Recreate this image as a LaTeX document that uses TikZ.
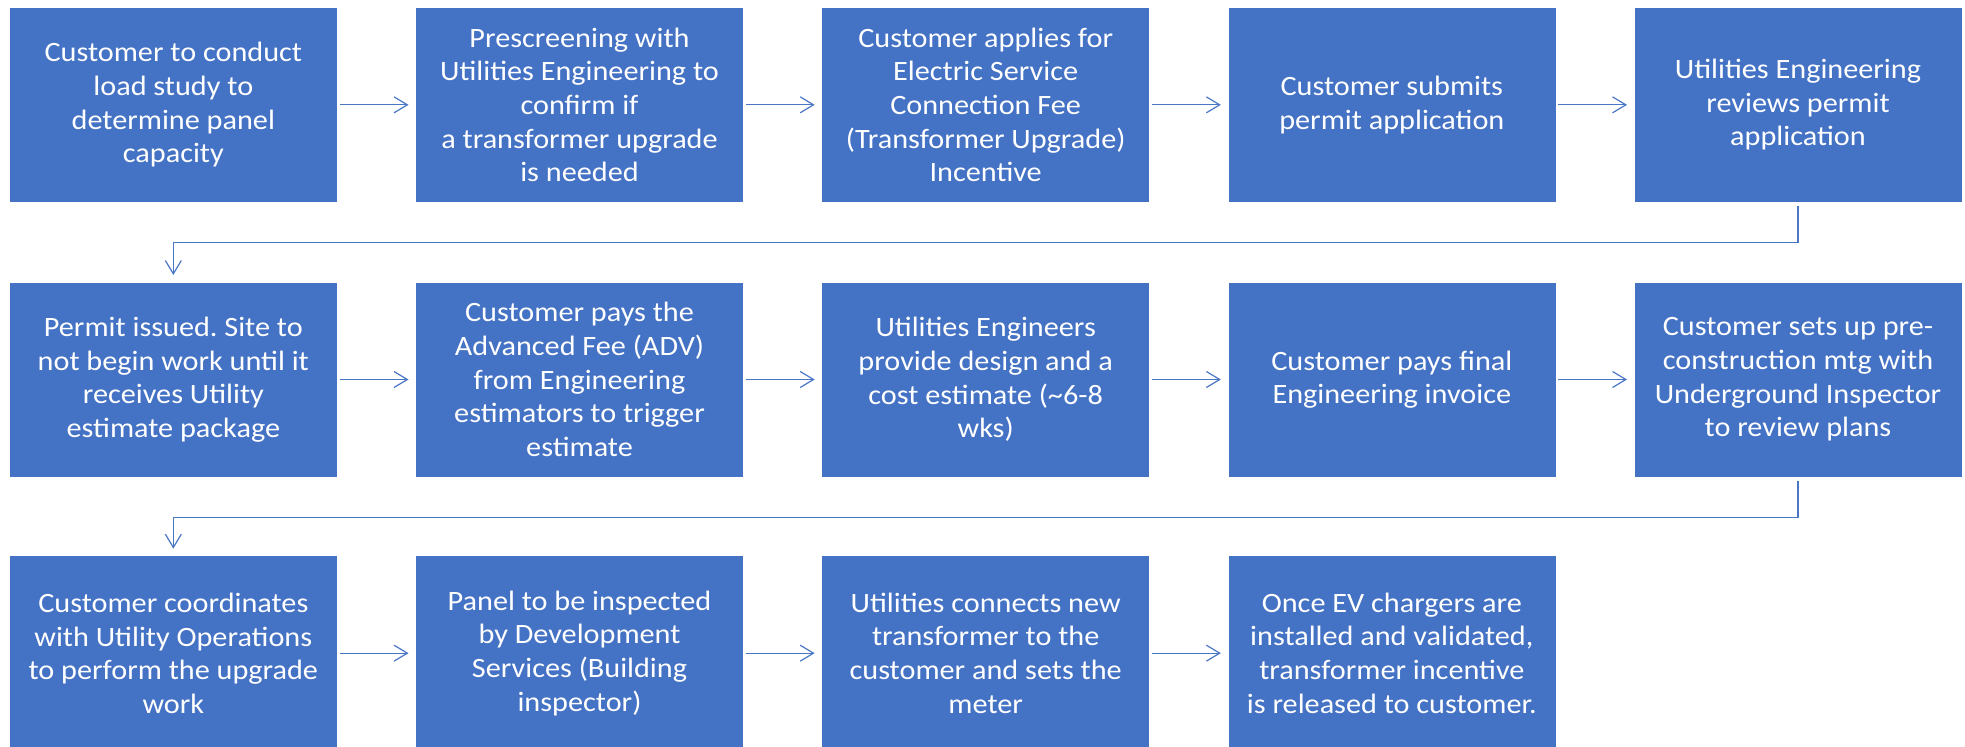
\documentclass[tikz,border=0pt]{standalone}
\usepackage{fontspec}
\setmainfont{Carlito}[FakeStretch=1.08]
\frenchspacing
\usetikzlibrary{positioning,arrows.meta}

\definecolor{stepblue}{HTML}{4472C4}
\definecolor{linkblue}{HTML}{4A76C6}

\tikzset{
  stepbox/.style={fill=stepblue, draw=white, line width=0.5pt, text=white,
    minimum width=246pt, minimum height=146.25pt, inner sep=0pt, align=center,
    font=\fontsize{21}{25.2}\selectfont},
  link/.style={draw=linkblue, line width=0.9pt,
    -{Straight Barb[length=10pt,width=12pt]}, shorten <=1.5pt, shorten >=5pt},
}

\begin{document}
\begin{tikzpicture}[node distance=59.25pt and 58.125pt]
\useasboundingbox (0,0) rectangle (1473.75pt,-559.5pt);

% first row
\node[stepbox, anchor=north west] (s1) at (6.75pt,-5.25pt) {Customer to conduct\\load study to\\determine panel\\capacity};
\node[stepbox, right=of s1] (s2) {Prescreening with\\Utilities Engineering to\\confirm if\\a transformer upgrade\\is needed};
\node[stepbox, right=of s2] (s3) {Customer applies for\\Electric Service\\Connection Fee\\(Transformer Upgrade)\\Incentive};
\node[stepbox, right=of s3] (s4) {Customer submits\\permit application};
\node[stepbox, right=of s4] (s5) {Utilities Engineering\\reviews permit\\application};

% second row
\node[stepbox, below=of s1] (s6) {Permit issued. Site to\\not begin work until it\\receives Utility\\estimate package};
\node[stepbox, right=of s6] (s7) {Customer pays the\\Advanced Fee (ADV)\\from Engineering\\estimators to trigger\\estimate};
\node[stepbox, right=of s7] (s8) {Utilities Engineers\\provide design and a\\cost estimate (\textasciitilde6-8\\wks)};
\node[stepbox, right=of s8] (s9) {Customer pays final\\Engineering invoice};
\node[stepbox, right=of s9] (s10) {Customer sets up pre-\\construction mtg with\\Underground Inspector\\to review plans};

% third row
\node[stepbox, below=58.5pt of s6] (s11) {Customer coordinates\\with Utility Operations\\to perform the upgrade\\work};
\node[stepbox, right=of s11] (s12) {Panel to be inspected\\by Development\\Services (Building\\inspector)};
\node[stepbox, right=of s12] (s13) {Utilities connects new\\transformer to the\\customer and sets the\\meter};
\node[stepbox, right=of s13] (s14) {Once EV chargers are\\installed and validated,\\transformer incentive\\is released to customer.};

\draw[link] (s1) -- (s2);
\draw[link] (s2) -- (s3);
\draw[link] (s3) -- (s4);
\draw[link] (s4) -- (s5);
\draw[link, shorten <=2.5pt] (s5.south) -- ++(0,-30pt) -| (s6.north);
\draw[link] (s6) -- (s7);
\draw[link] (s7) -- (s8);
\draw[link] (s8) -- (s9);
\draw[link] (s9) -- (s10);
\draw[link, shorten <=2.5pt] (s10.south) -- ++(0,-30pt) -| (s11.north);
\draw[link] (s11) -- (s12);
\draw[link] (s12) -- (s13);
\draw[link] (s13) -- (s14);
\end{tikzpicture}
\end{document}
